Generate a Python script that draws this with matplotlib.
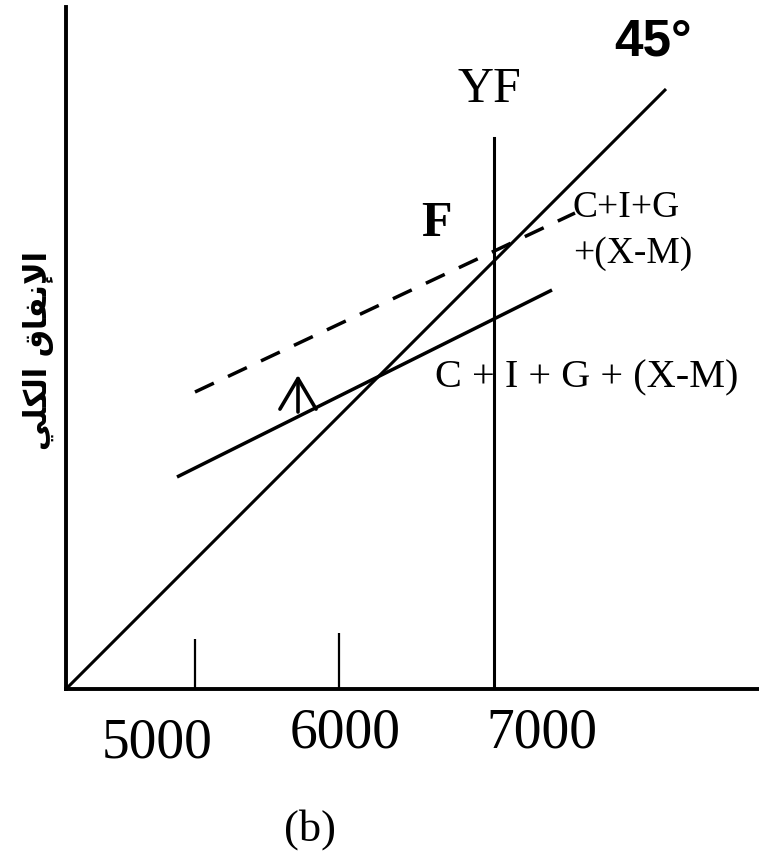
import numpy as np
import matplotlib
matplotlib.use('Agg')
import matplotlib.pyplot as plt

# income / expenditure values
x_line45 = [4300, 7900]
y_line45 = [4300, 7900]

x_ad = [4966, 7216]          # C + I + G + (X-M)
y_ad = [5572, 6694]

x_ad_new = [5074, 7354]      # shifted C+I+G+(X-M), dashed
y_ad_new = [6082, 7156]

yf = 6868                    # full employment income
yf_top = 7606

tick_x = [5074, 5938]        # small marks on the income axis
tick_top = [4600, 4636]

tick_labels = ['5000', '6000', '7000']
tick_label_x = [4846, 5974, 7156]
tick_label_y = [3886, 3946, 3946]

arrow_x = 5692
arrow_y = [5962, 6184]

# y label, arabic in presentation forms (visual order, matplotlib does no shaping)
ylab = '\ufef2\ufee0\ufedc\ufedf\ufe8d \ufed5\ufe8e\ufed4\ufee7\ufef9\ufe8d'

serif = 'Liberation Serif'

fig = plt.figure(figsize=(7.59, 8.56), dpi=100)
ax = fig.add_axes([66/759, (856-689)/856, (759-66)/759, (689-7)/856])
ax.set_xlim(4300, 8458)
ax.set_ylim(4300, 8392)

for s in ['top', 'right']:
    ax.spines[s].set_visible(False)
for s in ['left', 'bottom']:
    ax.spines[s].set_linewidth(2.8)
ax.set_xticks([])
ax.set_yticks([])

lw = 2.2
ax.plot(x_line45, y_line45, color='black', lw=lw, solid_capstyle='butt')
ax.plot(x_ad, y_ad, color='black', lw=2.5, solid_capstyle='butt')
ax.plot(x_ad_new, y_ad_new, color='black', lw=2.5, linestyle=(0, (6, 4.5)))
ax.plot([yf, yf], [4300, yf_top], color='black', lw=lw)
ax.vlines(tick_x, 4300, tick_top, color='black', lw=1.6)

# upward shift arrow
ax.annotate('', xy=(arrow_x, arrow_y[1]), xytext=(arrow_x, arrow_y[0]),
            arrowprops=dict(arrowstyle='->,head_length=1.1,head_width=0.65',
                            lw=2.6, color='black', mutation_scale=20,
                            shrinkA=0, shrinkB=0))

# labels
ax.text(7822, 8182, '45°', family='Liberation Sans', weight='bold',
        fontsize=37, ha='center', va='center')
ax.text(6838, 7894, 'YF', family=serif, fontsize=36, ha='center', va='center')
ax.text(6520, 7090, 'F', family=serif, weight='bold', fontsize=36,
        ha='center', va='center')
ax.text(7342, 7132, 'C+I+G', family=serif, fontsize=27, ha='left', va='baseline')
ax.text(7342, 6856, '+(X-M)', family=serif, fontsize=27, ha='left', va='baseline')
ax.text(6514, 6112, 'C + I + G + (X-M)', family=serif, fontsize=29,
        ha='left', va='baseline')

for lab, xx, yy in zip(tick_labels, tick_label_x, tick_label_y):
    ax.text(xx, yy, lab, family=serif, fontsize=40, ha='center', va='baseline',
            clip_on=False)

fig.text(310/759, 1 - 830/856, '(b)', family=serif, fontsize=32,
         ha='center', va='center')

fig.text(38/759, 1 - 350/856, ylab, family='DejaVu Sans', weight='bold',
         fontsize=22, rotation=90, ha='center', va='center')

fig.savefig('out.png', dpi=100)
